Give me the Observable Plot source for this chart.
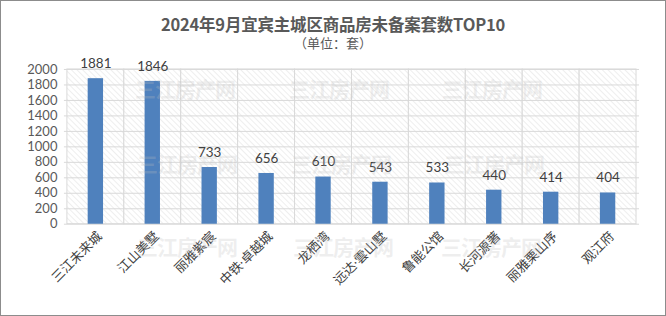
<!DOCTYPE html>
<html>
<head>
<meta charset="utf-8">
<script src="https://cdn.jsdelivr.net/npm/d3@7"></script>
<script src="https://cdn.jsdelivr.net/npm/@observablehq/plot@0.6"></script>
<style>
  body { margin: 0; background: #fff; }
  #wrap { position: relative; width: 666px; height: 316px; box-sizing: border-box; border: 1px solid #8c8c8c; overflow: hidden; font-family: "Noto Sans CJK SC", sans-serif; }
  #title { position: absolute; top: 13px; left: 0; width: 664px; text-align: center; font-size: 16.5px; font-weight: bold; color: #595959; line-height: 20px; letter-spacing: -0.2px; }
  #sub { position: absolute; top: 33px; left: 0; width: 664px; text-align: center; font-size: 13px; color: #595959; line-height: 18px; }
  #chart { position: absolute; top: 49px; left: -1px; }
  .wm { position: absolute; font-size: 21px; font-weight: bold; color: rgba(190,190,190,0.25); letter-spacing: -1px; pointer-events: none; white-space: nowrap; }
</style>
</head>
<body>
<div id="wrap">
  <div id="title">2024年9月宜宾主城区商品房未备案套数TOP10</div>
  <div id="sub">（单位：套）</div>
  <div id="chart"></div>
</div>
<script>
const projects = ["三江未来城", "江山美墅", "丽雅紫宸", "中铁·卓越城", "龙栖湾", "远达·雲山墅", "鲁能公馆", "长河源著", "丽雅栗山序", "观江府"];
const units = [1881, 1846, 733, 656, 610, 543, 533, 440, 414, 404];
const yTicks = [0, 200, 400, 600, 800, 1000, 1200, 1400, 1600, 1800, 2000];
const watermark = "三江房产网";

const data = projects.map((p, i) => ({project: p, units: units[i]}));

const W = 666, H = 266;
const mL = 64, mR = 26;
const step = (W - mL - mR) / projects.length;
const barW = 16;
const inset = (step - barW) / 2;

const chart = Plot.plot({
  width: W,
  height: H,
  marginTop: 19,
  marginBottom: 92,
  marginLeft: mL,
  marginRight: mR,
  style: {fontFamily: "'Noto Sans', 'Noto Sans CJK SC', sans-serif", background: "transparent"},
  x: {domain: projects, padding: 0, label: null},
  y: {domain: [0, 2000], label: null},
  marks: [
    Plot.cell(projects, {x: d => d, fill: "url(#hatch)", stroke: "#d9d9d9", strokeWidth: 1}),
    Plot.ruleY(yTicks, {stroke: "#d9d9d9", strokeWidth: 1}),
    Plot.barY(data, {x: "project", y: "units", fill: "#4f81bd", insetLeft: inset, insetRight: inset}),
    Plot.text(data, {x: "project", y: "units", text: d => String(d.units), dy: -15, fill: "#404040", fontSize: 13.5, fontFamily: "Lato, 'Noto Sans', sans-serif"}),
    Plot.axisY({ticks: yTicks, tickFormat: d => String(d), tickSize: 0, tickPadding: 7, fontSize: 13, fill: "#595959", fontFamily: "Lato, 'Noto Sans', sans-serif"}),
    Plot.axisX({tickSize: 0, tickRotate: -45, tickPadding: 10, dx: 4, fontSize: 13, fill: "#404040", label: null, fontFamily: "'Noto Sans', 'Noto Sans CJK SC', sans-serif"})
  ]
});

// hatch pattern defs
const ns = "http://www.w3.org/2000/svg";
const defs = document.createElementNS(ns, "defs");
defs.innerHTML = `<pattern id="hatch" patternUnits="userSpaceOnUse" width="4" height="4" patternTransform="rotate(-45)">
  <rect width="4" height="4" fill="#ffffff"/>
  <line x1="0" y1="0" x2="0" y2="4" stroke="#dedede" stroke-width="1"/>
</pattern>`;
chart.insertBefore(defs, chart.firstChild);
document.getElementById("chart").appendChild(chart);

// faint watermarks
const wrap = document.getElementById("wrap");
const wmPos = [[134, 72], [288, 72], [441, 72], [136, 147], [290, 147], [443, 147], [136, 230], [292, 230], [440, 230]];
wmPos.forEach(([l, t]) => {
  const d = document.createElement("div");
  d.className = "wm";
  d.style.left = l + "px";
  d.style.top = t + "px";
  d.textContent = watermark;
  wrap.appendChild(d);
});
</script>
</body>
</html>
